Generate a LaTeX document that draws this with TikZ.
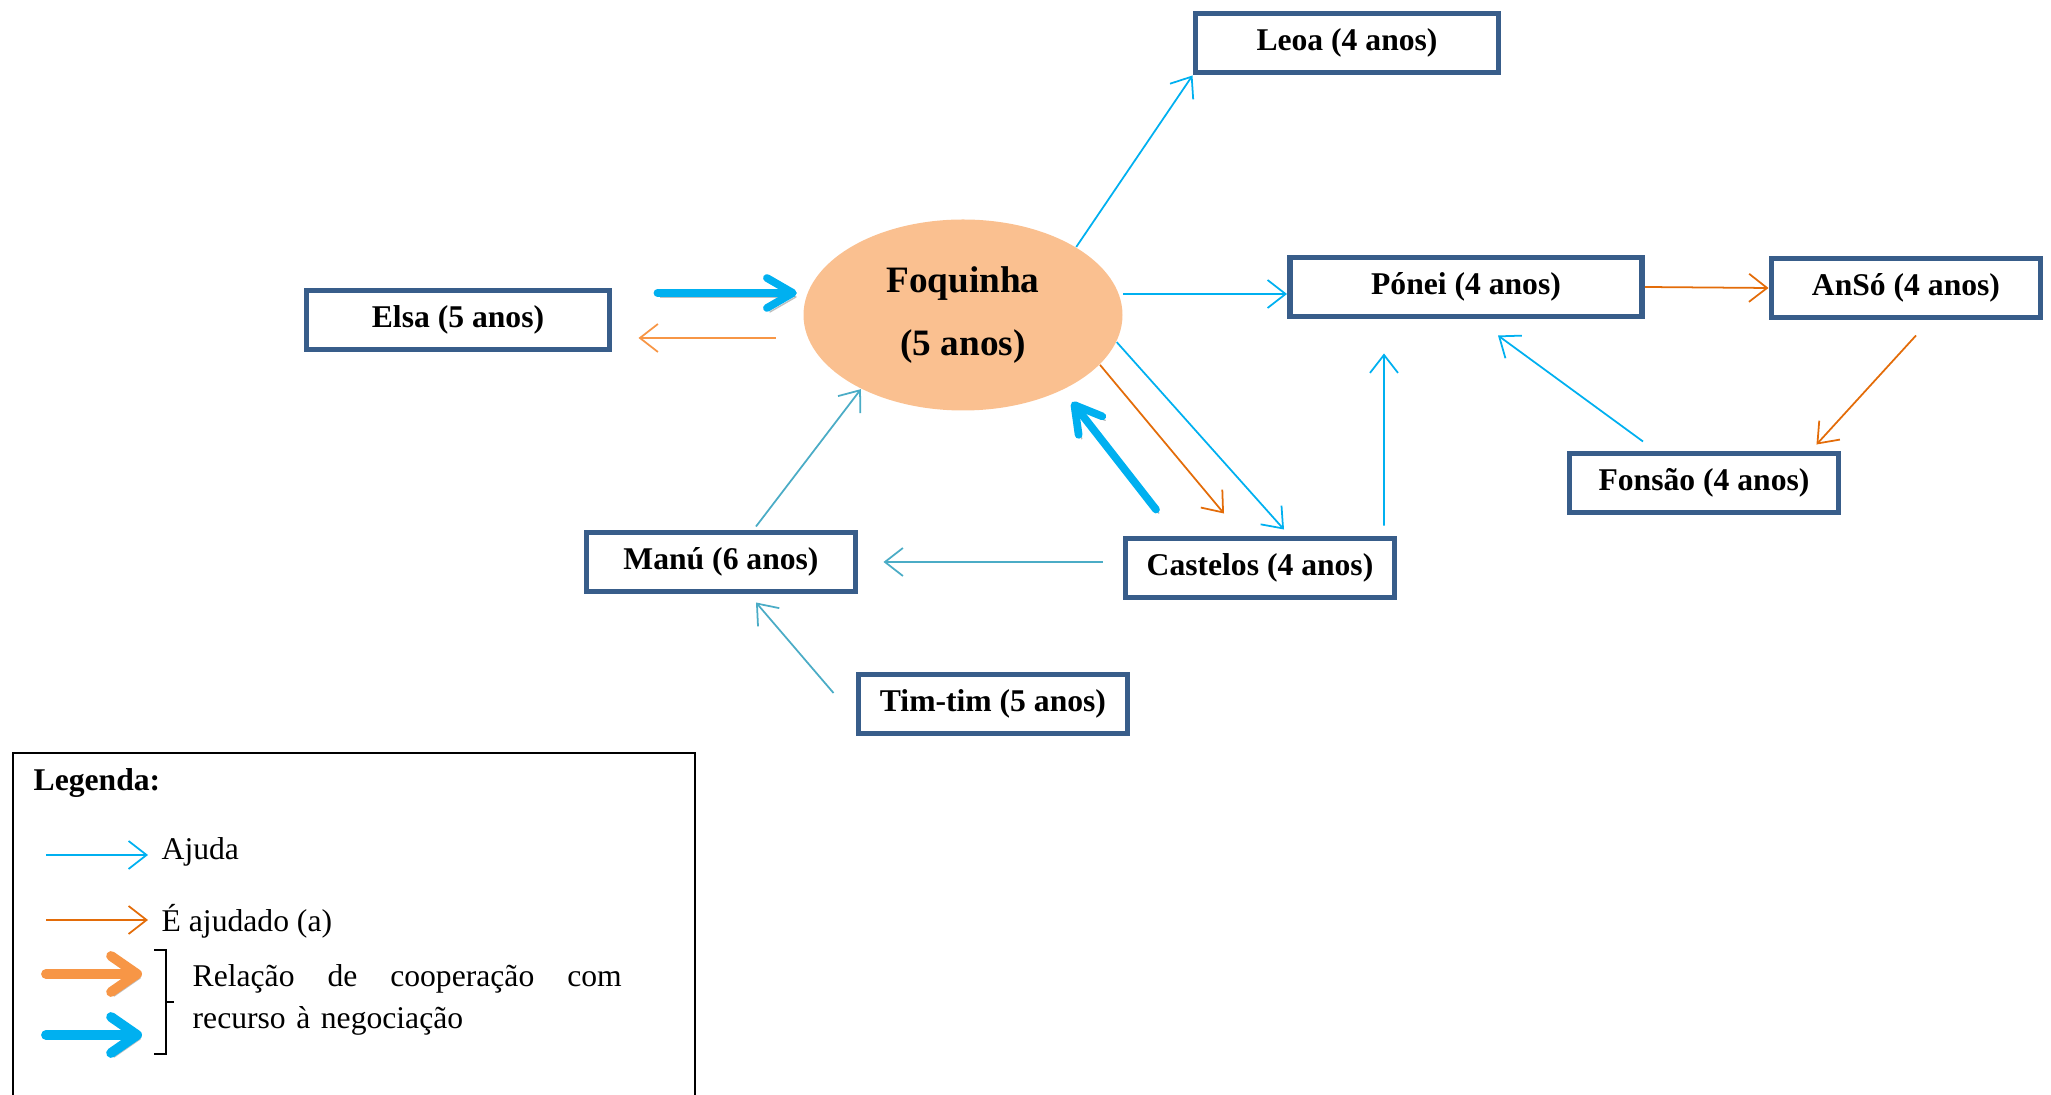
\documentclass[tikz,border=0pt]{standalone}
\usepackage{fontspec}
\setmainfont{Liberation Serif}
\usetikzlibrary{arrows.meta,shapes.geometric}
\definecolor{boxblue}{RGB}{56,93,138}
\definecolor{ajuda}{RGB}{0,176,240}
\definecolor{ajudab}{RGB}{75,172,198}
\definecolor{ajudado}{RGB}{227,108,9}
\definecolor{ajudadoc}{RGB}{247,150,70}
\definecolor{foqfill}{RGB}{250,192,144}

\begin{document}
\begin{tikzpicture}[
		every node/.style={font=\fontsize{9}{12}\selectfont},
		kid/.style={draw=boxblue, line width=1.7pt, minimum height=0.59cm, font=\bfseries\fontsize{9}{11}\selectfont},
		help/.style={draw=ajuda, line width=0.5pt, -{Straight Barb[length=1.8mm,width=2.8mm]}},
		helpb/.style={help, draw=ajudab},
		helped/.style={help, draw=ajudado},
		helpedc/.style={help, draw=ajudadoc},
		nego/.style={draw=ajuda, line width=2.2pt, line cap=round, -{Straight Barb[length=2.6mm,width=3mm,round]},
			preaction={draw=black, opacity=0.25, transform canvas={shift={(0.03,-0.04)}}}}]
		\useasboundingbox (0,0) rectangle (20.51,-10.95);
		\node[kid, minimum width=3.03cm] (leoa) at (13.47,-0.43) {Leoa (4 anos)};
		\node[kid, minimum width=3.03cm] (elsa) at (4.58,-3.20) {Elsa (5 anos)};
		\node[ellipse, fill=foqfill, minimum width=3.19cm, minimum height=1.91cm, align=center, font=\bfseries\fontsize{10.6}{18}\selectfont] (foq) at (9.63,-3.15) {Foquinha\\(5 anos)};
		\node[kid, minimum width=3.52cm] (ponei) at (14.66,-2.87) {Pónei (4 anos)};
		\node[kid, minimum width=2.69cm] (anso) at (19.06,-2.88) {AnSó (4 anos)};
		\node[kid, minimum width=2.69cm] (fonsao) at (17.04,-4.83) {Fonsão (4 anos)};
		\node[kid, minimum width=2.69cm] (castelos) at (12.60,-5.68) {Castelos (4 anos)};
		\node[kid, minimum width=2.69cm] (manu) at (7.21,-5.62) {Manú (6 anos)};
		\node[kid, minimum width=2.69cm] (timtim) at (9.93,-7.04) {Tim-tim (5 anos)};

		\draw[help] (foq.31) -- (leoa.south west);
		\draw[help] ([yshift=-0.07cm]foq.east |- ponei.west) -- ([yshift=-0.07cm]ponei.west);
		\draw[helped] (ponei.east) -- (anso.west);
		\draw[helped] ([xshift=0.1cm,yshift=-0.15cm]anso.south) -- ([xshift=-0.25cm,yshift=0.06cm]fonsao.north east);
		\draw[help] ([xshift=-0.61cm,yshift=0.09cm]fonsao.north) -- ([xshift=0.32cm,yshift=-0.16cm]ponei.south);
		\draw[help] ([xshift=1.24cm,yshift=0.1cm]castelos.north) -- ([xshift=-0.82cm,yshift=-0.34cm]ponei.south);
		\draw[help] (foq.-10) -- ([xshift=0.24cm,yshift=0.06cm]castelos.north);
		\draw[helped] (foq.-20) -- ([xshift=-0.36cm,yshift=0.22cm]castelos.north);
		\draw[nego, shorten >=0.15cm] ([xshift=-1.04cm,yshift=0.26cm]castelos.north) -- (foq.-37);
		\draw[helpb, shorten <=0.2cm, shorten >=0.25cm] (manu.east -| castelos.west) -- (manu.east);
		\draw[helpb] ([xshift=0.35cm,yshift=0.03cm]manu.north) -- (foq.216);
		\draw[helpb] ([xshift=-0.22cm,yshift=0.11cm]timtim.west) -- ([xshift=0.35cm,yshift=-0.08cm]manu.south);
		\draw[nego, shorten <=0.45cm, shorten >=0.06cm] ([yshift=0.27cm]elsa.east) -- ([yshift=0.22cm]foq.west);
		\draw[helpedc, shorten <=0.27cm, shorten >=0.26cm] ([yshift=-0.23cm]foq.west) -- ([yshift=-0.23cm]foq.west -| elsa.east);

		\draw[line width=0.6pt] (0.13,-10.95) |- (6.95,-7.53) -- (6.95,-10.95);
		\node[anchor=west, inner sep=0pt, font=\bfseries\fontsize{9}{12}\selectfont] (legenda) at (0.33,-7.835) {Legenda:};
		\node[anchor=west, inner sep=0pt] (ajtxt) at (1.61,-8.52) {Ajuda};
		\node[anchor=west, inner sep=0pt] (adtxt) at (1.61,-9.21) {É ajudado (a)};
		\draw[help] ([xshift=-1.15cm,yshift=-0.03cm]ajtxt.west) -- ([xshift=-0.13cm,yshift=-0.03cm]ajtxt.west);
		\draw[helped] ([xshift=-1.15cm,yshift=0.01cm]adtxt.west) -- ([xshift=-0.13cm,yshift=0.01cm]adtxt.west);
		\node[anchor=north west, inner sep=0pt, text width=4.29cm, align=left] (negtxt) at (1.92,-9.64) {\hbox to 4.29cm{Relação\hfill de\hfill cooperação\hfill com}\\recurso à negociação};
		\coordinate (oa) at (0.46,-9.74);
		\coordinate (ob) at (1.42,-9.74);
		\coordinate (ba) at (0.46,-10.35);
		\coordinate (bb) at (1.42,-10.35);
		\draw[nego, draw=ajudadoc, line width=2.8pt, -{Straight Barb[length=2.6mm,width=3.6mm,round]}] (oa) -- (ob);
		\draw[nego, line width=2.8pt, -{Straight Barb[length=2.6mm,width=3.6mm,round]}] (ba) -- (bb);
		\draw[line width=0.6pt] (1.54,-9.50) -- (1.66,-9.50) -- (1.66,-10.54) -- (1.54,-10.54);
		\draw[line width=0.6pt] (1.66,-10.02) -- (1.74,-10.02);
\end{tikzpicture}
\end{document}
